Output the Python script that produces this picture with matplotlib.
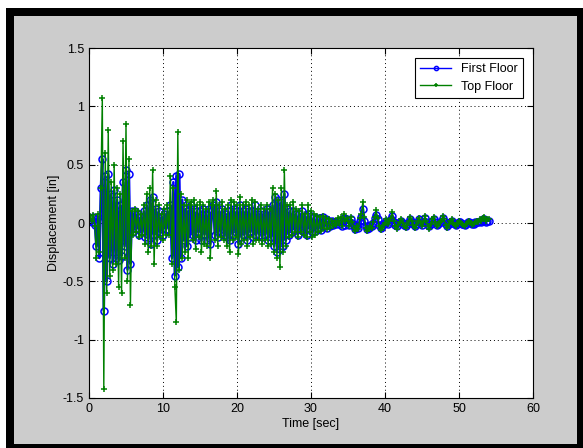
import numpy as np
import matplotlib
matplotlib.use('Agg')
import matplotlib.pyplot as plt
from matplotlib.patches import Rectangle

plt.rcParams['font.family'] = ['Liberation Sans', 'DejaVu Sans']

# sampling step of the records [sec]
dt = 0.2

# first floor displacement [in], one row per second
first_floor = [
    0.02, 0.04, 0.01, 0.05, -0.02,
    -0.20, 0.05, -0.30, 0.30, 0.55,
    -0.75, 0.40, -0.50, 0.42, -0.30,
    0.25, -0.35, 0.28, -0.30, 0.20,
    -0.32, 0.15, -0.28, 0.35, -0.20,
    0.45, -0.40, 0.42, -0.35, 0.10,
    -0.08, 0.10, -0.05, 0.08, -0.10,
    0.05, -0.08, 0.10, -0.12, 0.15,
    -0.15, 0.20, -0.18, 0.22, -0.10,
    0.12, -0.15, 0.10, -0.08, 0.05,
    -0.10, 0.08, -0.05, 0.10, -0.06,
    0.15, -0.30, 0.35, -0.45, 0.40,
    -0.38, 0.42, -0.30, 0.20, -0.15,
    0.12, -0.20, 0.10, -0.12, 0.15,
    -0.10, 0.12, -0.15, 0.10, -0.08,
    0.10, -0.15, 0.12, -0.10, 0.08,
    -0.15, 0.12, -0.18, 0.10, 0.15,
    -0.10, 0.18, -0.12, 0.10, -0.08,
    0.12, -0.10, 0.08, -0.12, 0.10,
    -0.15, 0.15, -0.10, 0.12, -0.08,
    0.10, -0.18, 0.15, -0.12, 0.10,
    -0.10, 0.12, -0.15, 0.10, -0.08,
    0.10, -0.12, 0.15, -0.10, 0.08,
    -0.10, 0.10, -0.12, 0.08, -0.10,
    0.12, -0.15, 0.10, -0.12, 0.15,
    -0.20, 0.22, -0.25, 0.20, -0.22,
    0.18, -0.20, 0.25, -0.15, 0.12,
    -0.10, 0.10, -0.08, 0.10, -0.06,
    0.08, -0.10, 0.08, -0.06, 0.10,
    -0.08, 0.06, -0.10, 0.08, -0.05,
    0.06, -0.08, 0.05, -0.07, 0.04,
    -0.05, 0.04, -0.06, 0.05, -0.03,
    0.03, -0.04, 0.02, -0.03, 0.02,
    -0.02, 0.01, -0.01, 0.02, -0.01,
    0.02, -0.03, 0.04, -0.02, 0.03,
    0.01, -0.02, 0.03, 0.00, -0.03,
    -0.05, -0.02, -0.04, 0.02, 0.05,
    0.12, 0.02, -0.03, -0.05, -0.04,
    -0.02, -0.03, 0.00, 0.04, 0.07,
    0.03, -0.02, -0.04, -0.03, -0.01,
    0.00, 0.02, -0.01, 0.01, 0.03,
    0.06, 0.01, -0.02, -0.03, 0.00,
    0.01, 0.02, 0.00, -0.02, -0.03,
    -0.01, 0.01, 0.03, 0.01, -0.01,
    -0.03, -0.01, 0.01, 0.03, 0.00,
    -0.02, 0.01, 0.04, 0.01, -0.02,
    -0.03, -0.01, 0.02, 0.03, 0.01,
    -0.02, -0.01, 0.01, 0.01, 0.04,
    0.02, -0.01, -0.03, -0.01, 0.01,
    0.02, 0.00, -0.01, -0.02, 0.00,
    0.01, 0.01, -0.01, -0.01, -0.02,
    -0.01, 0.01, 0.01, 0.00, -0.01,
    -0.01, 0.01, 0.01, 0.01, 0.02,
    0.01, 0.03, 0.03, 0.01, 0.02,
    0.02,
]

# top floor displacement [in], one row per second
top_floor = [
    0.03, 0.06, 0.02, 0.07, -0.03,
    -0.30, 0.08, -0.25, 0.30, 1.07,
    -1.42, 0.60, -0.60, 0.80, -0.45,
    0.35, -0.40, 0.50, -0.35, 0.30,
    -0.55, 0.25, -0.60, 0.70, -0.30,
    0.85, -0.50, 0.55, -0.70, 0.10,
    -0.10, 0.12, -0.08, 0.10, -0.12,
    0.08, -0.10, 0.15, -0.18, 0.25,
    -0.25, 0.30, -0.20, 0.45, -0.35,
    0.20, -0.20, 0.15, -0.12, 0.08,
    -0.15, 0.12, -0.10, 0.15, -0.10,
    0.40, -0.35, 0.30, -0.55, -0.85,
    0.78, -0.40, 0.25, -0.30, 0.15,
    -0.25, 0.20, -0.30, 0.15, 0.18,
    -0.15, 0.20, -0.22, 0.15, -0.12,
    0.18, -0.25, 0.15, -0.18, 0.12,
    -0.20, 0.18, -0.30, 0.15, 0.20,
    -0.15, 0.27, -0.20, 0.15, -0.12,
    0.18, -0.15, 0.12, -0.20, 0.15,
    -0.25, 0.20, -0.15, 0.18, -0.12,
    0.15, -0.27, 0.22, -0.18, 0.15,
    -0.15, 0.18, -0.20, 0.15, -0.12,
    0.20, -0.18, 0.18, -0.15, 0.12,
    -0.15, 0.15, -0.18, 0.12, -0.15,
    0.15, -0.20, 0.12, -0.18, 0.30,
    -0.25, 0.25, -0.30, 0.20, -0.38,
    0.30, -0.25, 0.45, -0.20, 0.15,
    -0.12, 0.15, -0.10, 0.18, -0.08,
    0.12, -0.12, 0.10, -0.08, 0.15,
    -0.10, 0.08, -0.12, 0.15, -0.08,
    0.10, -0.12, 0.08, -0.10, 0.06,
    -0.08, 0.05, -0.07, 0.06, -0.04,
    0.04, -0.05, 0.03, -0.04, 0.02,
    -0.03, 0.02, -0.02, 0.04, 0.00,
    0.05, -0.03, 0.08, 0.02, 0.04,
    0.02, -0.03, 0.05, 0.01, -0.04,
    -0.07, -0.03, -0.05, 0.04, 0.08,
    0.18, 0.05, -0.04, -0.07, -0.05,
    -0.03, -0.04, 0.01, 0.05, 0.11,
    0.04, -0.03, -0.06, -0.04, -0.02,
    0.00, 0.03, -0.01, 0.02, 0.04,
    0.09, 0.02, -0.03, -0.05, -0.02,
    0.01, 0.03, 0.00, -0.03, -0.04,
    -0.02, 0.02, 0.05, 0.02, -0.02,
    -0.04, -0.02, 0.02, 0.04, 0.00,
    -0.03, 0.01, 0.06, 0.02, -0.03,
    -0.05, -0.01, 0.03, 0.05, 0.01,
    -0.03, -0.02, 0.01, 0.02, 0.06,
    0.03, -0.02, -0.04, -0.01, 0.02,
    0.03, 0.00, -0.02, -0.03, 0.00,
    0.02, 0.01, -0.01, -0.02, -0.03,
    -0.01, 0.01, 0.02, 0.00, -0.02,
    -0.01, 0.01, 0.02, 0.01, 0.03,
    0.02, 0.04, 0.05, 0.02, 0.03,
    0.03,
]

t1 = np.arange(len(first_floor)) * dt
t2 = np.arange(len(top_floor)) * dt

W, H = 583, 448
fig = plt.figure(figsize=(W / 100, H / 100), dpi=100, facecolor='white')

# black frame and grey window background (figure pixel coords)
fig.patches.append(Rectangle((6 / W, 0), 1 - 6 / W, 1 - 8 / H,
                             transform=fig.transFigure, facecolor='black',
                             edgecolor='none', zorder=-2))
fig.patches.append(Rectangle((14 / W, 4 / H), (577 - 14) / W, (432 - 4) / H,
                             transform=fig.transFigure, facecolor='#cccccc',
                             edgecolor='none', zorder=-1))

ax = fig.add_axes([89 / W, 1 - 398 / H, 444 / W, 350 / H])
ax.set_facecolor('white')

ax.plot(t1, first_floor, '-o', color='blue', lw=1.8, ms=5, mfc='none',
        mew=1.1, label='First Floor')
ax.plot(t2, top_floor, '-+', color='#008000', lw=1.0, ms=4, mew=1.1,
        label='Top Floor')

ax.set_xlim(0, 60)
ax.set_ylim(-1.5, 1.5)
ax.set_xticks(np.arange(0, 61, 10))
ax.set_yticks([-1.5, -1, -0.5, 0, 0.5, 1, 1.5])
ax.set_yticklabels(['-1.5', '-1', '-0.5', '0', '0.5', '1', '1.5'])
ax.grid(True, linestyle=(0, (1, 3)), color='black', lw=0.7)
ax.tick_params(direction='in', top=True, right=True, labelsize=9, length=4,
               colors='black')
for s in ax.spines.values():
    s.set_linewidth(0.8)

ax.set_xlabel('Time [sec]', fontsize=9, labelpad=2)
ax.set_ylabel('Displacement [in]', fontsize=9, labelpad=2)

leg = ax.legend(loc='upper right', fontsize=9, fancybox=False,
                edgecolor='black', framealpha=1, borderpad=0.4,
                handlelength=2.5, borderaxespad=0.8, labelspacing=0.45)
leg.get_frame().set_linewidth(0.8)
for h in leg.get_lines():
    h.set_linewidth(1.0)
    h.set_markersize(3)

fig.savefig('out.png', dpi=100, facecolor=fig.get_facecolor())
